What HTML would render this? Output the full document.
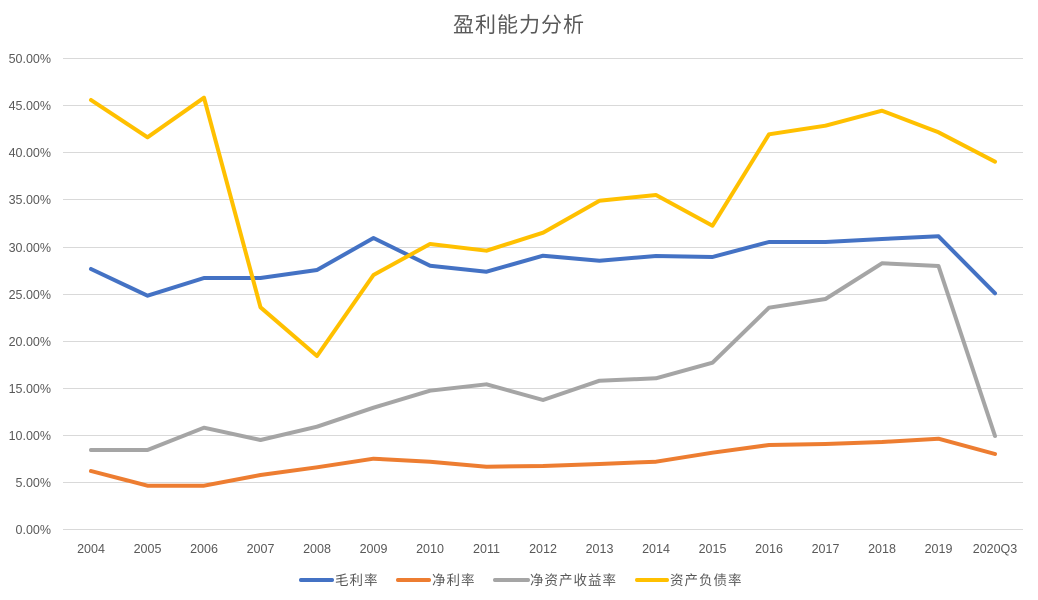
<!DOCTYPE html>
<html><head><meta charset="utf-8"><style>
html,body{margin:0;padding:0;background:#fff;}
svg{display:block;}
text{font-family:"Liberation Sans","Noto Sans CJK SC",sans-serif;fill:#595959;}
</style></head><body>
<svg width="1038" height="600" viewBox="0 0 1038 600" xmlns="http://www.w3.org/2000/svg">
<rect width="1038" height="600" fill="#fff"/>
<text x="519" y="32" font-size="21" text-anchor="middle" letter-spacing="1">盈利能力分析</text>
<g stroke="#D9D9D9" stroke-width="1">
<line x1="63" x2="1023" y1="58.5" y2="58.5"/>
<line x1="63" x2="1023" y1="105.5" y2="105.5"/>
<line x1="63" x2="1023" y1="152.5" y2="152.5"/>
<line x1="63" x2="1023" y1="199.5" y2="199.5"/>
<line x1="63" x2="1023" y1="247.5" y2="247.5"/>
<line x1="63" x2="1023" y1="294.5" y2="294.5"/>
<line x1="63" x2="1023" y1="341.5" y2="341.5"/>
<line x1="63" x2="1023" y1="388.5" y2="388.5"/>
<line x1="63" x2="1023" y1="435.5" y2="435.5"/>
<line x1="63" x2="1023" y1="482.5" y2="482.5"/>
<line x1="63" x2="1023" y1="529.5" y2="529.5"/>
</g>
<g font-size="12.5" text-anchor="end">
<text x="51" y="63">50.00%</text>
<text x="51" y="110">45.00%</text>
<text x="51" y="157">40.00%</text>
<text x="51" y="204">35.00%</text>
<text x="51" y="252">30.00%</text>
<text x="51" y="299">25.00%</text>
<text x="51" y="346">20.00%</text>
<text x="51" y="393">15.00%</text>
<text x="51" y="440">10.00%</text>
<text x="51" y="487">5.00%</text>
<text x="51" y="534">0.00%</text>
</g>
<g font-size="12.5" text-anchor="middle">
<text x="91" y="553">2004</text>
<text x="147.5" y="553">2005</text>
<text x="204" y="553">2006</text>
<text x="260.5" y="553">2007</text>
<text x="317" y="553">2008</text>
<text x="373.5" y="553">2009</text>
<text x="430" y="553">2010</text>
<text x="486.5" y="553">2011</text>
<text x="543" y="553">2012</text>
<text x="599.5" y="553">2013</text>
<text x="656" y="553">2014</text>
<text x="712.5" y="553">2015</text>
<text x="769" y="553">2016</text>
<text x="825.5" y="553">2017</text>
<text x="882" y="553">2018</text>
<text x="938.5" y="553">2019</text>
<text x="995" y="553">2020Q3</text>
</g>
<g fill="none" stroke-width="4" stroke-linejoin="round" stroke-linecap="round">
<polyline stroke="#4472C4" points="91,269 147.5,295.7 204,278 260.5,278 317,270 373.5,238 430,265.7 486.5,271.7 543,255.7 599.5,260.7 656,256 712.5,257 769,242 825.5,242 882,239 938.5,236.3 995,293.3"/>
<polyline stroke="#ED7D31" points="91,471 147.5,485.7 204,485.7 260.5,475 317,467.3 373.5,458.7 430,461.7 486.5,466.7 543,466 599.5,464 656,461.7 712.5,452.7 769,445 825.5,444 882,442 938.5,438.7 995,454"/>
<polyline stroke="#A5A5A5" points="91,450 147.5,450 204,427.7 260.5,440 317,426.7 373.5,407.7 430,390.7 486.5,384.3 543,400 599.5,380.7 656,378.3 712.5,362.7 769,307.7 825.5,299 882,263.3 938.5,266 995,436"/>
<polyline stroke="#FFC000" points="91,100 147.5,137.3 204,97.7 260.5,307.3 317,356 373.5,275 430,244 486.5,250.7 543,232.7 599.5,200.7 656,195 712.5,225.7 769,134.3 825.5,125.7 882,110.7 938.5,132.3 995,161.7"/>
</g>
<g stroke-width="4" stroke-linecap="round">
<line x1="301" x2="332" y1="580" y2="580" stroke="#4472C4"/>
<line x1="398" x2="429" y1="580" y2="580" stroke="#ED7D31"/>
<line x1="495" x2="528" y1="580" y2="580" stroke="#A5A5A5"/>
<line x1="637" x2="667" y1="580" y2="580" stroke="#FFC000"/>
</g>
<g font-size="13.5" letter-spacing="1">
<text x="335" y="585">毛利率</text>
<text x="432" y="585">净利率</text>
<text x="530" y="585">净资产收益率</text>
<text x="670" y="585">资产负债率</text>
</g>
</svg>
</body></html>
